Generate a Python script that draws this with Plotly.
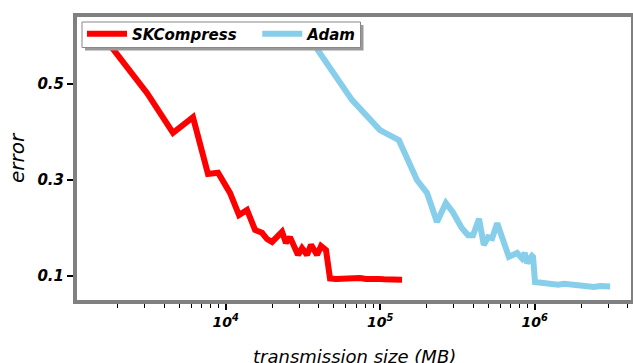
import plotly.graph_objects as go

# ---- data ----
sk_x = [1535, 3100, 4560, 6140, 7680, 8920, 10660, 12190, 13740, 15490, 17180, 18500,
        19950, 23140, 24550, 26060, 29360, 31170, 33590, 35650, 38990, 41390, 44580,
        47300, 51700, 56600, 61900, 67700, 74000, 80900, 88500, 96800, 105900, 115700,
        126600, 138400]
sk_y = [0.608, 0.481, 0.398, 0.431, 0.3125, 0.315, 0.273, 0.227, 0.2375, 0.196, 0.19, 0.177,
        0.171, 0.192, 0.169, 0.181, 0.144, 0.158, 0.144, 0.165, 0.144, 0.1625, 0.154,
        0.095, 0.094, 0.095, 0.096, 0.095, 0.096, 0.094, 0.095, 0.094, 0.093, 0.093,
        0.092, 0.092]

adam_x = [32140, 39520, 65560, 99570, 132100, 172800, 200800, 233000, 266000, 295000,
          337000, 370000, 398800, 436000, 468000, 499100, 530000, 572000, 635000, 680000,
          768800, 826000, 862000, 893000, 960000, 975000, 1004000, 1082000, 1183000,
          1294000, 1416000, 1549000, 1694000, 1853000, 2025000, 2215000, 2423000,
          2650000, 2899000, 3077000]
adam_y = [0.6125, 0.571, 0.467, 0.404, 0.383, 0.3, 0.273, 0.2125, 0.252, 0.233,
          0.2, 0.185, 0.185, 0.219, 0.1646, 0.181, 0.179, 0.21, 0.165, 0.14,
          0.148, 0.137, 0.148, 0.127, 0.142, 0.14, 0.0875, 0.086, 0.084,
          0.083, 0.082, 0.084, 0.082, 0.083, 0.080, 0.079, 0.077,
          0.079, 0.077, 0.078]

x_major = [1e4, 1e5, 1e6]
x_major_text = ["10<sup>4</sup>", "10<sup>5</sup>", "10<sup>6</sup>"]
x_minor = [m * 10 ** e for e in (3, 4, 5) for m in range(2, 10)] + [2e6, 3e6, 4e6]
y_ticks = [0.1, 0.3, 0.5]
y_text = ["0.1", "0.3", "0.5"]
x_title = "transmission size (MB)"
y_title = "error"

FONT = "DejaVu Sans"

fig = go.Figure()
fig.add_trace(go.Scatter(x=sk_x, y=sk_y, mode="lines", name="SKCompress\u00a0\u00a0\u00a0",
                         line=dict(color="#ff0000", width=6)))
fig.add_trace(go.Scatter(x=adam_x, y=adam_y, mode="lines", name="Adam",
                         line=dict(color="#87ceeb", width=6)))

W, H = 633, 363
L, R, T, B = 77, 2, 17, 63
pw, ph = W - L - R, H - T - B

def px2paper_x(px):
    return (px - L) / pw

def px2paper_y(py):
    return (H - B - py) / ph

# legend shadow and frame (drawn above the lines; the legend entries sit on top)
fig.add_shape(type="rect", xref="paper", yref="paper",
              x0=px2paper_x(85), x1=px2paper_x(363.5), y0=px2paper_y(50.5), y1=px2paper_y(25),
              fillcolor="#999999", line=dict(width=0), layer="above")
fig.add_shape(type="rect", xref="paper", yref="paper",
              x0=px2paper_x(82), x1=px2paper_x(360.5), y0=px2paper_y(47.5), y1=px2paper_y(22),
              fillcolor="white", line=dict(color="#888888", width=1), layer="above")

# x-axis title placed low, as in the reference (partly below the page edge)
fig.add_annotation(text=x_title, xref="paper", yref="paper",
                   x=px2paper_x(354), y=px2paper_y(356), xanchor="center", yanchor="middle",
                   showarrow=False,
                   font=dict(family=FONT, size=18, color="black", style="italic"))

tickfont = dict(family=FONT, size=15, color="black", weight="bold", style="italic")

fig.update_layout(
    width=W, height=H,
    margin=dict(l=L, r=R, t=T, b=B, autoexpand=False),
    paper_bgcolor="white", plot_bgcolor="white",
    showlegend=True,
    legend=dict(orientation="h", x=px2paper_x(82), y=px2paper_y(17.5),
                xanchor="left", yanchor="top",
                bgcolor="rgba(0,0,0,0)", borderwidth=0,
                font=dict(family=FONT, size=15, color="black", weight="bold", style="italic"),
                itemwidth=40, tracegroupgap=0),
    xaxis=dict(type="log", range=[3.0375, 6.623], automargin=False,
               tickmode="array", tickvals=x_major, ticktext=x_major_text,
               ticks="outside", ticklen=6, tickwidth=1.5, tickcolor="black",
               minor=dict(tickmode="array", tickvals=x_minor, ticks="outside",
                          ticklen=3.5, tickwidth=1.2, tickcolor="black", showgrid=False),
               showgrid=False, zeroline=False,
               showline=True, linecolor="#808080", linewidth=4, mirror=True,
               tickfont=dict(family=FONT, size=14, color="black", weight="bold", style="italic")),
    yaxis=dict(range=[0.05, 0.6396], automargin=False,
               tickmode="array", tickvals=y_ticks, ticktext=y_text,
               ticks="outside", ticklen=6, tickwidth=1.5, tickcolor="black",
               showgrid=False, zeroline=False,
               showline=True, linecolor="#808080", linewidth=4, mirror=True,
               tickfont=tickfont,
               title=dict(text=y_title, standoff=8,
                          font=dict(family=FONT, size=20, color="black", style="italic"))),
)

fig.write_html("out.html")
